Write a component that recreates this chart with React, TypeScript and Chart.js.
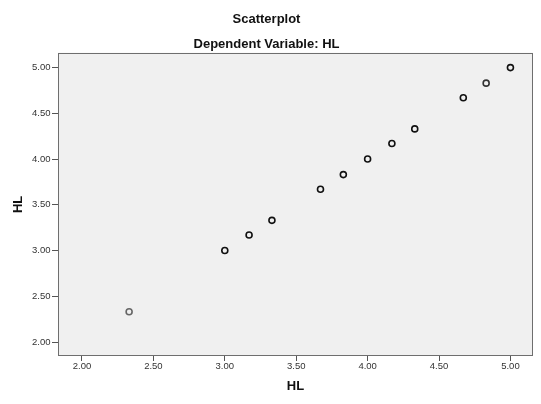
import React, { useEffect, useRef } from "react";
import { Chart, registerables } from "chart.js";

Chart.register(...registerables);

const xValues = [2.33, 3.0, 3.17, 3.33, 3.67, 3.83, 4.0, 4.17, 4.33, 4.67, 4.83, 5.0];
const yValues = [2.33, 3.0, 3.17, 3.33, 3.67, 3.83, 4.0, 4.17, 4.33, 4.67, 4.83, 5.0];
const pointColors = ["#666666", "#111111", "#111111", "#111111", "#111111", "#111111", "#111111", "#111111", "#111111", "#111111", "#333333", "#111111"];
const titleText = "Scatterplot";
const subtitleText = "Dependent Variable: HL";
const xAxisTitle = "HL";
const yAxisTitle = "HL";
const xRange = [1.832, 5.158];
const yRange = [1.847, 5.163];

const FONT = "'Liberation Sans', Arial, sans-serif";

const plotBg = {
  id: "plotBg",
  beforeDraw(chart: any) {
    const { ctx, chartArea } = chart;
    ctx.save();
    ctx.fillStyle = "#f0f0f0";
    ctx.fillRect(chartArea.left, chartArea.top, chartArea.right - chartArea.left, chartArea.bottom - chartArea.top);
    ctx.restore();
  },
  beforeDatasetsDraw(chart: any) {
    const { ctx, chartArea } = chart;
    ctx.save();
    ctx.strokeStyle = "#6e6e6e";
    ctx.lineWidth = 1;
    ctx.strokeRect(
      Math.round(chartArea.left) + 0.5,
      Math.round(chartArea.top) + 0.5,
      Math.round(chartArea.right - chartArea.left) - 1,
      Math.round(chartArea.bottom - chartArea.top) - 1
    );
    ctx.restore();
  },
};

export default function App() {
  const ref = useRef<HTMLCanvasElement | null>(null);
  useEffect(() => {
    document.body.style.margin = "0";
    const canvas = ref.current;
    if (!canvas) return;
    const data = xValues.map((x, i) => ({ x, y: yValues[i] }));
    const chart = new Chart(canvas, {
      type: "scatter",
      data: {
        datasets: [
          {
            data,
            pointStyle: "circle",
            pointRadius: 3,
            pointBorderWidth: 1.6,
            pointBackgroundColor: "rgba(0,0,0,0)",
            pointBorderColor: pointColors,
            pointHoverRadius: 3,
          },
        ],
      },
      options: {
        animation: false,
        responsive: false,
        devicePixelRatio: 1,
        layout: { padding: { left: 0, right: 8, top: 0, bottom: 0 } },
        plugins: {
          legend: { display: false },
          tooltip: { enabled: false },
          title: {
            display: true,
            text: titleText,
            color: "#111111",
            font: { family: FONT, size: 13, weight: "bold", lineHeight: 1.2 },
            padding: { top: 11.5, bottom: 9.3 },
          },
          subtitle: {
            display: true,
            text: subtitleText,
            color: "#111111",
            font: { family: FONT, size: 13, weight: "bold", lineHeight: 1.2 },
            padding: { top: 0, bottom: 0.7 },
          },
        },
        scales: {
          x: {
            type: "linear",
            min: xRange[0],
            max: xRange[1],
            afterFit(scale: any) {
              scale.height = 48;
            },
            ticks: {
              stepSize: 0.5,
              includeBounds: false,
              padding: 0,
              color: "#333333",
              font: { family: FONT, size: 9.5 },
              callback: (v: any) => Number(v).toFixed(2),
              maxRotation: 0,
            },
            grid: { drawOnChartArea: false, drawTicks: true, tickLength: 5, color: "#555555" },
            border: { display: false },
            title: {
              display: true,
              text: xAxisTitle,
              color: "#111111",
              font: { family: FONT, size: 13, weight: "bold", lineHeight: 1.2 },
              padding: { top: 0, bottom: 10 },
            },
          },
          y: {
            type: "linear",
            min: yRange[0],
            max: yRange[1],
            afterFit(scale: any) {
              scale.width = 58;
            },
            ticks: {
              stepSize: 0.5,
              includeBounds: false,
              padding: 1.5,
              color: "#333333",
              font: { family: FONT, size: 9.5 },
              callback: (v: any) => Number(v).toFixed(2),
            },
            grid: { drawOnChartArea: false, drawTicks: true, tickLength: 6, color: "#555555" },
            border: { display: false },
            title: {
              display: true,
              text: yAxisTitle,
              color: "#111111",
              font: { family: FONT, size: 13, weight: "bold", lineHeight: 1.2 },
              padding: { top: 11, bottom: 0 },
            },
          },
        },
      },
      plugins: [plotBg],
    } as any);
    return () => chart.destroy();
  }, []);
  return (
    <div style={{ position: "fixed", left: 0, top: 0, width: 541, height: 404, background: "#ffffff" }}>
      <canvas ref={ref} width={541} height={404} style={{ display: "block", width: 541, height: 404 }} />
    </div>
  );
}
